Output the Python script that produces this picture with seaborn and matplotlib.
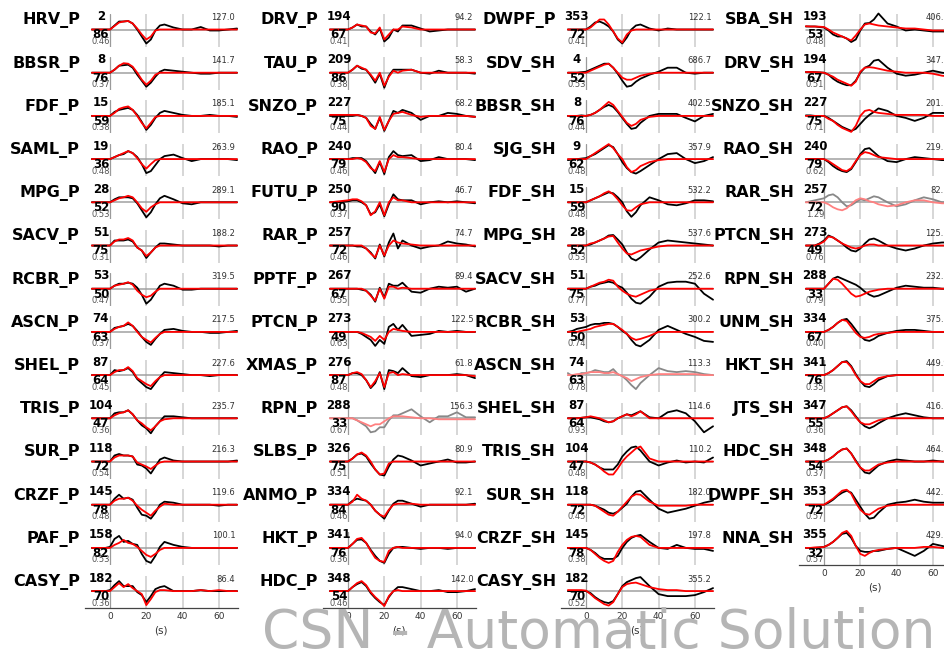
import matplotlib
matplotlib.use("Agg")
import matplotlib.pyplot as plt
import seaborn as sns
import pandas as pd

sns.set_theme(style="white")
plt.rcParams['font.family'] = ['DejaVu Sans']

# time samples (s)
T = [-10, -7.5, -5, -2.5, 0, 2.5, 5, 7.5, 10, 12.5, 15, 17.5, 20, 22.5, 25, 27.5, 30, 35, 40, 45, 50, 55, 60, 65, 70]

# ---------------- column metadata ----------------
st_c1 = ['HRV_P', 'BBSR_P', 'FDF_P', 'SAML_P', 'MPG_P', 'SACV_P', 'RCBR_P', 'ASCN_P', 'SHEL_P', 'TRIS_P', 'SUR_P', 'CRZF_P', 'PAF_P', 'CASY_P']
az_c1 = [2, 8, 15, 19, 28, 51, 53, 74, 87, 104, 118, 145, 158, 182]
di_c1 = [86, 76, 59, 36, 52, 75, 50, 63, 64, 47, 72, 78, 82, 70]
cc_c1 = [0.46, 0.37, 0.38, 0.48, 0.53, 0.31, 0.47, 0.37, 0.45, 0.36, 0.54, 0.48, 0.53, 0.36]
am_c1 = [127.0, 141.7, 185.1, 263.9, 289.1, 188.2, 319.5, 217.5, 227.6, 235.7, 216.3, 119.6, 100.1, 86.4]

st_c2 = ['DRV_P', 'TAU_P', 'SNZO_P', 'RAO_P', 'FUTU_P', 'RAR_P', 'PPTF_P', 'PTCN_P', 'XMAS_P', 'RPN_P', 'SLBS_P', 'ANMO_P', 'HKT_P', 'HDC_P']
az_c2 = [194, 209, 227, 240, 250, 257, 267, 273, 276, 288, 326, 334, 341, 348]
di_c2 = [67, 86, 75, 79, 90, 72, 67, 49, 87, 33, 75, 84, 76, 54]
cc_c2 = [0.41, 0.38, 0.44, 0.46, 0.37, 0.46, 0.55, 0.63, 0.48, 0.67, 0.51, 0.46, 0.36, 0.46]
am_c2 = [94.2, 58.3, 68.2, 80.4, 46.7, 74.7, 89.4, 122.5, 61.8, 156.3, 80.9, 92.1, 94.0, 142.0]

st_c3 = ['DWPF_P', 'SDV_SH', 'BBSR_SH', 'SJG_SH', 'FDF_SH', 'MPG_SH', 'SACV_SH', 'RCBR_SH', 'ASCN_SH', 'SHEL_SH', 'TRIS_SH', 'SUR_SH', 'CRZF_SH', 'CASY_SH']
az_c3 = [353, 4, 8, 9, 15, 28, 51, 53, 74, 87, 104, 118, 145, 182]
di_c3 = [72, 52, 76, 62, 59, 52, 75, 50, 63, 64, 47, 72, 78, 70]
cc_c3 = [0.41, 0.53, 0.44, 0.48, 0.48, 0.53, 0.77, 0.74, 0.78, 0.93, 0.48, 0.45, 0.38, 0.52]
am_c3 = [122.1, 686.7, 402.5, 357.9, 532.2, 537.6, 252.6, 300.2, 113.3, 114.6, 110.2, 182.0, 197.8, 355.2]

st_c4 = ['SBA_SH', 'DRV_SH', 'SNZO_SH', 'RAO_SH', 'RAR_SH', 'PTCN_SH', 'RPN_SH', 'UNM_SH', 'HKT_SH', 'JTS_SH', 'HDC_SH', 'DWPF_SH', 'NNA_SH']
az_c4 = [193, 194, 227, 240, 257, 273, 288, 334, 341, 347, 348, 353, 355]
di_c4 = [53, 67, 75, 79, 72, 49, 33, 67, 76, 55, 54, 72, 32]
cc_c4 = [0.48, 0.51, 0.71, 0.62, 1.29, 0.76, 0.79, 0.40, 0.35, 0.36, 0.37, 0.57, 0.57]
am_c4 = [406.8, 347.5, 201.3, 219.6, 82.1, 125.7, 232.1, 375.4, 449.9, 416.1, 464.5, 442.8, 429.8]

rejected = ['RPN_P', 'ASCN_SH', 'RAR_SH']

# ---------------- waveforms (observed / synthetic) ----------------
obs_HRV_P = [0,0,0,0, 0,4,8,8,8.5,6,0,-7,-14,-10,-1,4,5,2,0,0,2.5,-1,-1,0,1]
syn_HRV_P = [0,0,0,0, 0,3.5,7,8,8.5,6,1,-5,-10,-7,-1,0,0,0,0,0,0,0,0,0,0]
obs_BBSR_P = [0,0,0,0, 0,3,7,7.5,8,5,-2,-8,-14,-10,-4,1,3,2,1,0,-1,-1,0,0,0]
syn_BBSR_P = [0,0,0,0, 0,3,7,9.5,9,6,0,-7,-12,-8,-2,0,0,0,0,0,0,0,0,0,0]
obs_FDF_P = [0,0,0,0, 0,4,6,7,8,6,1,-6,-14,-9,-2,3,5,3,1,0,0,1,0,0,-1]
syn_FDF_P = [0,0,0,0, 0,3,7,8.5,9.5,6,0,-7,-12.5,-7,-1,0,0,0,0,0,0,0,0,0,0]
obs_SAML_P = [0,0,0,0, 0,2,4,5,8,6,2,-5,-14,-12,-6,0,3,4.5,1,-2,0,0,0,0,-1]
syn_SAML_P = [0,0,0,0, 0,2,4,6,8,6,1,-5,-9.5,-5,-1,0,0,0,0,0,0,0,0,0,0]
obs_MPG_P = [0,0,0,0, 0,3,5,5,5,4,-1,-8,-15,-10,-2,4,6.5,3,-1,-2,0,0,0,0,0]
syn_MPG_P = [0,0,0,0, 0,2,4,5,6.5,5,0,-6,-9.5,-5,-2,0,0,0,0,0,0,0,0,0,0]
obs_SACV_P = [0,0,0,0, 0,5,5,5,6,4,-2,-5,-12.5,-7,-2,2,2,1,0,0,0,0,-1,0,0]
syn_SACV_P = [0,0,0,0, 0,4,6,6,7.5,5,-2,-5,-10.5,-7,-2,0,0,0,0,0,0,0,0,0,0]
obs_RCBR_P = [0,0,0,0, 0,3,5,5,6,5,1,-6,-15,-11,-4,3,5,3,-1,-1,0,0,0,0,0]
syn_RCBR_P = [0,0,0,0, 0,3,4,5,6.5,4,-2,-6,-8.5,-7,-3,0,0,0,0,0,0,0,0,0,0]
obs_ASCN_P = [0,0,0,0, 0,4,5,6,8,6,1,-5,-10,-13,-7,-2,2,3,1,0,0,-1,-1,0,1]
syn_ASCN_P = [0,0,0,0, 0,3,5,6,9.5,6,0,-5,-8,-10.5,-6,-2,0,0,0,0,0,0,0,0,0]
obs_SHEL_P = [0,0,0,0, 0,5,4,5,7,3,-4,-8,-12,-14,-8,-2,3,2,1,0,0,-1,0,0,0]
syn_SHEL_P = [0,0,0,0, 0,3,5,5,8,4,-3,-6,-9,-11,-6,-2,0,0,0,0,0,0,0,0,0]
obs_TRIS_P = [0,0,0,0, 0,5,6,6,8,4,-2,-7,-10,-15,-8,-3,2,2,1,0,0,0,0,0,0]
syn_TRIS_P = [0,0,0,0, 0,3,5,6,8,4,-2,-5,-9,-12,-8,-3,-1,0,0,0,0,0,0,0,0]
obs_SUR_P = [0,0,0,0, 0,6,7.5,6,6,5,-3,-4,-7,-12,-5,2,4,1,0,0,0,0,0,0,1]
syn_SUR_P = [0,0,0,0, 0,4,6,6,6,5,-1,-3,-5,-7.5,-4,-1,0,0,0,0,0,0,0,0,0]
obs_CRZF_P = [0,0,0,0, 0,6,10,6,7,5,-3,-10,-11,-14,-8,0,3,2,0,0,0,0,-1,0,0]
syn_CRZF_P = [0,0,0,0, 0,4,6,6,7,4,-1,-5,-8,-11,-6,-2,1,0,0,0,0,0,0,0,0]
obs_PAF_P = [0,0,0,0, 1,9,12,6,7,4,3,-6,-13,-15,-8,1,6,3,1,0,0,0,0,0,0]
syn_PAF_P = [0,0,0,0, 0,3,5,8,5,4,1,-3,-7,-9,-6,-2,0,0,0,0,0,0,0,0,0]
obs_CASY_P = [0,0,0,0, 1,6,10,5,5,5,-1,-4,-11,-5,2,4,5,0,0,0,1,0,0,0,0]
syn_CASY_P = [0,0,0,0, 0,4,8,4,7,3,0,-3,-14,-8,-1,1,1,0,0,0,1,0,1,0,0]

obs_DRV_P = [0,0,0,0, 0,2,5,3,3,-2,-5,1,-12,-8,0,-2,4,4,1,-2,-1,0,0,0,0]
syn_DRV_P = [0,0,0,0, 0,2,5,4,3,-3,-4,2,-10,-5,0,0,3,2,0,0,0,0,0,0,0]
obs_TAU_P = [0,0,0,0, 0,3,7,4,3,-3,-10,-1,-15,-3,3,3,3,3,0,-1,2,0,0,0,-1]
syn_TAU_P = [0,0,0,0, 0,3,7,5,3,-2,-8,0,-13,-4,2,0,2,3,0,0,0,0,0,0,0]
obs_SNZO_P = [0,0,0,0, 0,0,1,0,-2,-8,-13,-2,-15,-5,5,3,6,3,-4,0,0,3,2,0,-1]
syn_SNZO_P = [1,1,1,1, 1,1,1,0,-2,-10,-13,-1,-14,-5,2,3,4,1,-1,0,0,0,0,0,-1]
obs_RAO_P = [0,0,0,0, 0,1,1,1,-2,-8,-14,-3,-15,2,8,4,3,4,-2,-1,2,0,0,0,-1]
syn_RAO_P = [0,0,0,0, 0,0,1,0,-3,-9,-12,-2,-13,0,4,2,2,1,0,0,0,0,0,0,0]
obs_FUTU_P = [0,0,0,0.5, 1,2,2,0,-3,-12,-10,-2,-14,-2,8,3,2,2,-2,0,1,0,1,0,-1]
syn_FUTU_P = [0,0.5,1,1.5, 2,3,3,1,-3,-13,-9,0,-13,0,5,2,2,0,0,0,0,0,0,0,0]
obs_RAR_P = [0,0,0,0, 0,0,-1,-1,-3,-7,-13,1,-11,3,12,-3,5,0,-3,-1,0,4,2,1,-1]
syn_RAR_P = [0,0,0,0, 0,0,0,0,-3,-8,-12,0,-10,0,5,3,2,1,0,0,0,0,0,0,0]
obs_PPTF_P = [0,0,0,0, 0,0,0,-1,-2,-6,-13,1,-9,5,3,3,6,-3,-4,0,2,1,2,-3,0]
syn_PPTF_P = [0,0,0,0, 0,0,0,0,-2,-7,-12,0,-10,2,2,0,1,0,0,0,0,0,0,0,0]
obs_PTCN_P = [0,0,0,0, 0,0,0,-2,-5,-8,-14,-8,-12,5,8,2,7,-4,-3,-2,1,0,1,0,0]
syn_PTCN_P = [0,0,0,0, 0,0,0,-1,-3,-5,-9,-4,-8,0,3,2,1,0,0,0,0,0,0,0,0]
obs_XMAS_P = [0,0,0,0, 0,2,2,0,-5,-13,-8,3,-14,5,4,2,7,-1,-2,0,0,0,1,0,-3]
syn_XMAS_P = [0,0,0,0, 0,2,3,1,-5,-12,-6,2,-12,2,3,0,1,0,0,0,0,0,0,0,-1]
obs_RPN_P = [0,0,0,0, 0,0,-2,-5,-8,-14,-13,-9,-9,-2,3,3,5,9,2,-4,2,2,6,1,1]
syn_RPN_P = [0,0,0,0, 0,0,-2,-4,-6,-8,-6,-6,-3,0,2,2,2,1,0,0,-1,-1,-1,-1,-1]
obs_SLBS_P = [0,0,0,0, 0,3,7,8,5,-2,-8,-13,-14,-5,2,6,5,1,-4,-2,0,2,-1,-1,0]
syn_SLBS_P = [0,0,0,0, 0,3,7,9,6,0,-8,-13,-12,-2,0,0,0,0,0,0,0,0,0,0,0]
obs_ANMO_P = [0,0,0,0, 0,4,6,5,4,0,-6,-10,-14,-6,1,4,4,1,-2,0,0,0,0,0,1]
syn_ANMO_P = [0,0,0,0, 0,3,10,6,4,0,-6,-10,-12,-5,0,1,1,1,0,0,0,0,0,0,0]
obs_HKT_P = [0,0,0,0, 0,4,8,8.5,5,-2,-8,-13,-15,-6,0,1,1,0,-1,0,0,-1,0,0,0]
syn_HKT_P = [0,0,0,0, 0,4,9,10,5,-3,-10,-13,-14,-3,0,1,0,0,0,0,0,0,0,0,0]
obs_HDC_P = [0,0,0,0, 0,4,7,9,5,-2,-7,-11,-14,-6,0,4,4,2,0,0,1,-1,-1,0,2]
syn_HDC_P = [0,0,0,0, 0,4,8,10,6,-1,-6,-10,-15,-5,0,1,0,0,0,0,0,0,0,0,0]

obs_DWPF_P = [0,0,0,0, 0,3,7,8,6,3,-2,-10,-14,-8,0,4,5,1,-1,1,0,0,0,0,0]
syn_DWPF_P = [0,0,0,0, 0,2,6,10,10,5,-2,-9,-13,-5,-1,0,0,0,0,0,0,0,0,0,0]
obs_SDV_SH = [0,0,0,0.5, 1,3,5,7,9,9,5,-1,-8,-14,-13,-9,-6,-2,1,5,5,0,-1,0,0]
syn_SDV_SH = [0,0,0,0, 0,2,4,6,8,9,5,0,-5,-7,-7,-5,-3,-1,0,0,0,0,0,0,0]
obs_BBSR_SH = [0,0,0,0.5, 0,1,3,6,9,11,9,4,-2,-8,-13,-12,-7,0,2,2,2,-2,-5.5,0,2]
syn_BBSR_SH = [0,0,0,0, 0,1,3,6,10,14,11,5,-1,-7,-10,-8,-4,-1,0,0,0,0,0,0,0]
obs_SJG_SH = [-1,-0.5,0,0.5, 1,3,5,8,11,14,12,5,-3,-9,-13,-14.5,-12,-6,0,5,6,0,-4,-2,2]
syn_SJG_SH = [0,0,0,0, 0,3,6,9,12,15,11,5,0,-8,-13,-11,-7,-3,-1,0,0,0,0,0,0]
obs_FDF_SH = [0,0,0,0, 0,2,4,6,8,10,9,5,0,-9,-14.5,-10,-3,5,2,-2,-3,-1,2,2,1]
syn_FDF_SH = [0,0,0,0, 0,2,4,6,9,11,8,3,-3,-8,-8.5,-5,-2,0,0,0,0,0,0,0,0]
obs_MPG_SH = [0,0,0,0, 0,1,3,5,7,10,10.5,6,1,-7,-13,-15,-12,-4,3,5,4,3,2,1,0]
syn_MPG_SH = [0,0,0,0, 0,2,3,5,7,9,9.5,3,-3,-8,-9,-7,-5,-3,-1,0,0,0,0,0,0]
obs_SACV_SH = [0,0,0,0, 0,2,3,5,6,7,6,3,1,-4,-10,-14,-15,-8,2,6,7,7,5,-5,-11]
syn_SACV_SH = [0,0,0,0, 0,2,4,6,7,9,8,2,-2,-5,-7,-8,-6,-2,0,0,0,0,0,0,0]
obs_RCBR_SH = [0,1,3,4, 5,7,8,8,9,9,8,5,1,-2,-8,-13,-14.5,-8,2,6,2,-2,-5,-9,-10]
syn_RCBR_SH = [0,0,0,1, 2,3,5,6,7,8,8,5,2,-2,-6,-8,-7,-4,0,0,0,0,0,0,0]
obs_ASCN_SH = [2,-1,0,2, 2,3,5,4,3,3,6,1,-1,-5,-10,-14,-8,0,7,4,3,4,3,1,0]
syn_ASCN_SH = [0,0,1,1, 2,3,3,3,2,2,3,1,-1,-3,-6,-4,-2,0,1,1,1,1,1,0,0]
obs_SHEL_SH = [0,0,0,0.5, 1,1,0,-1,-3,-4,-3,0,2,4,3,5,7,1,0,6,8,5,-3,-14,-8]
syn_SHEL_SH = [0,0,0,0.5, 1,2,1,0,-2,-4,-3,0,2,4,2,4,7,0,0,0,0,0,0,0,0]
obs_TRIS_SH = [0,0,0,0, 0,-1,-3,-6,-8,-8,-8,-3,5,10,14,15,11,0,-4,-1,1,-1,0,-1,4]
syn_TRIS_SH = [0,0,0,0, 0,-1,-3,-6,-10,-13,-13,-7,0,5,9,13,15,3,0,0,0,0,0,0,0]
obs_SUR_SH = [0,0,0,0, 0,0,-1,-3,-5,-8,-9,-7,-3,1,8,13,14,5,-4,-8,-6,-4,-1,2,4]
syn_SUR_SH = [0,0,0,0, 0,0,-1,-4,-7,-10,-11,-7,-2,3,8,10.5,10,3,-1,-1,-1,-1,0,0,0]
obs_CRZF_SH = [0,0,0,0, 0,-2,-5,-9,-11,-11,-11,-8,0,6,10,12,13,6,0,-1,3,0,-1,-1,-3]
syn_CRZF_SH = [0,0,0,0, 0,-2,-6,-10,-13,-15,-13,-4,3,8,11,12,11,3,0,0,0,0,0,0,0]
obs_CASY_SH = [0,0,0,0, 0,-2,-6,-9,-11,-12,-10,-3,5,9,11,13,14,5,-3,-5,-5,-5,-4,-1,3]
syn_CASY_SH = [1,1,1,1, 0.5,-3,-7,-10,-13,-14.5,-11,-3,4,7,8,8.5,7,4,2,1,1,0,0,0,0]

obs_SBA_SH = [3,3,3,2.5, 2,-1,-5,-7,-7,-9,-12.5,-10,-1,6,6.5,10,16,6,3,-1,0,-1,-2,-2,-2]
syn_SBA_SH = [3.3,3,3,2.8, 2.5,0,-3,-5,-7,-9,-11,-6,0,5,6,5,4,3,2,1,1,0,-1,-1,-1]
obs_DRV_SH = [0.7,0.7,0.5,0.3, 0,-2,-6,-9,-11,-12.5,-12.5,-8,0,5,7,12,13,5,-1,-3,-2,0,2,0,-1]
syn_DRV_SH = [0.7,0.7,0.5,0.3, 0,-2,-4,-7,-9,-11,-13,-9,1,5,5.5,5,4,2,1,0,0,0,-1,-3,-4]
obs_SNZO_SH = [0.5,0.5,0,0, 0,-2,-5,-8,-11,-13,-15,-13,-8,-3,1,4,7.5,5,0,-2,-5,-2,3,3,2]
syn_SNZO_SH = [0,0,0,0, 0,-3,-5,-9,-12,-14,-16,-10,0,5,6,4,3,2,1,1,1,1,0,0,0]
obs_RAO_SH = [0,0,0,0, 0,-3,-7,-10,-12,-13,-10,-3,5,10,11,7,3,-2,-3,0,2,1,0,-1,-1]
syn_RAO_SH = [0,0,0,0, 0,-2,-5,-8,-11,-12,-9,-2,4,7,6,4,2,1,0,0,0,0,0,0,0]
obs_RAR_SH = [0,1,2,3, 4,7,8,5,0,-4,-3,0,3,2,4,6,5,0,-4,-2,2,5,3,0,0]
syn_RAR_SH = [0,0,0,0, 0,-2,-5,-7,-8,-6,-2,2,4,3,1,0,-2,-4,-3,0,2,2,0,-1,-1]
obs_PTCN_SH = [0,0,0,2, 5,10,8,5,2,-2,-5,-6,-3,2,6,7,5,0,-3,-5,-3,0,2,3,3]
syn_PTCN_SH = [0,0,0,1.5, 4,9,8,5,2,0,-2,-3,-2,0,1,1,0,0,0,0,0,0,0,0,0]
obs_RPN_SH = [0,0,0,0, 0,5,10,12,10,8,6,4,1,-3,-6,-8,-7,-3,1,3,2,1,1,0,0]
syn_RPN_SH = [0,0,0,0, 0,5,10,9,5,0,-5,-8,-7,-5,-3,-2,-1,0,0,0,0,0,0,0,0]
obs_UNM_SH = [0,0,0,0, 0,2,5,9,12,13,8,2,-4,-8,-9,-7,-4,-1,1,2,2,1,0,0,0]
syn_UNM_SH = [0,0,0,0, 0,2,5,9,12,11,5,-1,-5,-6,-5,-3,-2,-1,0,0,0,0,0,0,0]
obs_HKT_SH = [0,0,0,0, 0,2,5,9,13,14,9,1,-6,-11,-12,-9,-5,-1,0,0,0,0,0,0,0]
syn_HKT_SH = [0,0,0,0, 0,2,5,9,13,13,8,0,-6,-9,-9,-6,-3,-1,0,0,0,0,0,0,0]
obs_JTS_SH = [0,0,0,0, 0,2,5,8,11,12,8,2,-4,-8,-10,-8,-5,0,3,5,3,1,0,0,0]
syn_JTS_SH = [0,0,0,0, 0,2,5,8,11,12,7,1,-4,-6,-6,-4,-2,0,0,0,0,0,0,0,0]
obs_HDC_SH = [0,0,0,0, 0,2,5,9,12,13,8,1,-6,-11,-12,-8,-4,0,2,1,0,0,1,0,0]
syn_HDC_SH = [0,0,0,0, 0,2,5,9,12,13,8,0,-6,-9,-9,-6,-3,-1,0,0,0,0,0,0,0]
obs_DWPF_SH = [0,0,0,0, 0,2,5,9,12,14,12,5,-2,-9,-14,-13,-8,0,2,3,5,3,2,2,2]
syn_DWPF_SH = [0,0,0,0, 0,3,6,10,14,15,11,2,-5,-9,-10,-7,-4,-1,0,0,0,0,0,0,0]
obs_NNA_SH = [0,0,0,0.5, 1,3,6,10,14,15,10,2,-3,-4,-4,-3,-3,-1,0,-4,-8,-3,4,2,0]
syn_NNA_SH = [0,0,0.5,0.5, 1,3,6,10,15,17,12,2,-6,-8,-5,-3,-2,-1,0,0,0,1,1,0,0]

columns = [
    (st_c1, az_c1, di_c1, cc_c1, am_c1),
    (st_c2, az_c2, di_c2, cc_c2, am_c2),
    (st_c3, az_c3, di_c3, cc_c3, am_c3),
    (st_c4, az_c4, di_c4, cc_c4, am_c4),
]

# ---------------- layout (pixels) ----------------
W, H = 944, 657
PX = 1.815                 # pixels per second
X0 = [110, 348, 586, 824]  # pixel x of t=0 for each column
ROW0, DY = 29.5, 43.2      # pixel y of the first zero line, row step
XMIN, XMAX = -14, 70.5
YLO, YHI = -17, 15.5       # one y unit = one pixel

fig = plt.figure(figsize=(W / 100, H / 100), dpi=100)
g = globals()

for c, (names, az, di, cc, am) in enumerate(columns):
    nrow = len(names)
    for r, name in enumerate(names):
        obs = g['obs_' + name]
        syn = g['syn_' + name]
        assert len(obs) == len(T) and len(syn) == len(T), name
        zy = ROW0 + DY * r
        left = X0[c] + XMIN * PX
        ax = fig.add_axes([left / W, (H - (zy - YLO)) / H,
                           (XMAX - XMIN) * PX / W, (YHI - YLO) / H])
        ax.set_xlim(XMIN, XMAX)
        ax.set_ylim(YLO, YHI)
        ax.patch.set_alpha(0)
        for gx in (20, 40, 60):
            ax.axvline(gx, color='#cfcfcf', lw=1.2, zorder=0)
        ax.axvline(0, color='#9a9a9a', lw=0.9, zorder=0)
        ax.plot([-10, 70], [0, 0], color='#a0a0a0', lw=1.1, zorder=1)

        rej = name in rejected
        df = pd.DataFrame({'t': T, 'obs': obs, 'syn': syn})
        sns.lineplot(data=df, x='t', y='obs', ax=ax, color='#888888' if rej else 'black',
                     lw=1.3, clip_on=False, zorder=2, estimator=None)
        sns.lineplot(data=df, x='t', y='syn', ax=ax, color='#ff8080' if rej else '#ff0000',
                     lw=1.3, clip_on=False, zorder=3, estimator=None)

        ax.text(-16.5, 9, name, ha='right', va='center', fontsize=11.5,
                fontweight='bold', color='black')
        ax.text(-5, 13, str(az[r]), ha='center', va='center', fontsize=8.5,
                fontweight='bold', color='black', zorder=5)
        ax.text(-5, -5.5, str(di[r]), ha='center', va='center', fontsize=8.5,
                fontweight='bold', color='black', zorder=5)
        ax.text(-5, -12, f'{cc[r]:.2f}', ha='center', va='center', fontsize=6,
                color='#555555', zorder=5)
        ax.text(69, 12, f'{am[r]:.1f}', ha='right', va='center', fontsize=6,
                color='#333333', zorder=5)

        for s in ax.spines.values():
            s.set_visible(False)
        ax.set_ylabel('')
        ax.set_yticks([])
        if r == nrow - 1:
            ax.spines['bottom'].set_visible(True)
            ax.spines['bottom'].set_color('#444444')
            ax.spines['bottom'].set_linewidth(0.9)
            ax.set_xticks([0, 20, 40, 60])
            ax.tick_params(axis='x', length=0, pad=3, labelsize=6.5, labelcolor='#333333')
            ax.set_xlabel('(s)', fontsize=7.5, color='#333333', labelpad=3)
        else:
            ax.set_xticks([])
            ax.set_xlabel('')

fig.text(262 / W, 1 - 648 / H, 'CSN - Automatic Solution', fontsize=38.5,
         color='#b5b5b5', ha='left', va='baseline', zorder=10)

fig.savefig('out.png', dpi=100)
